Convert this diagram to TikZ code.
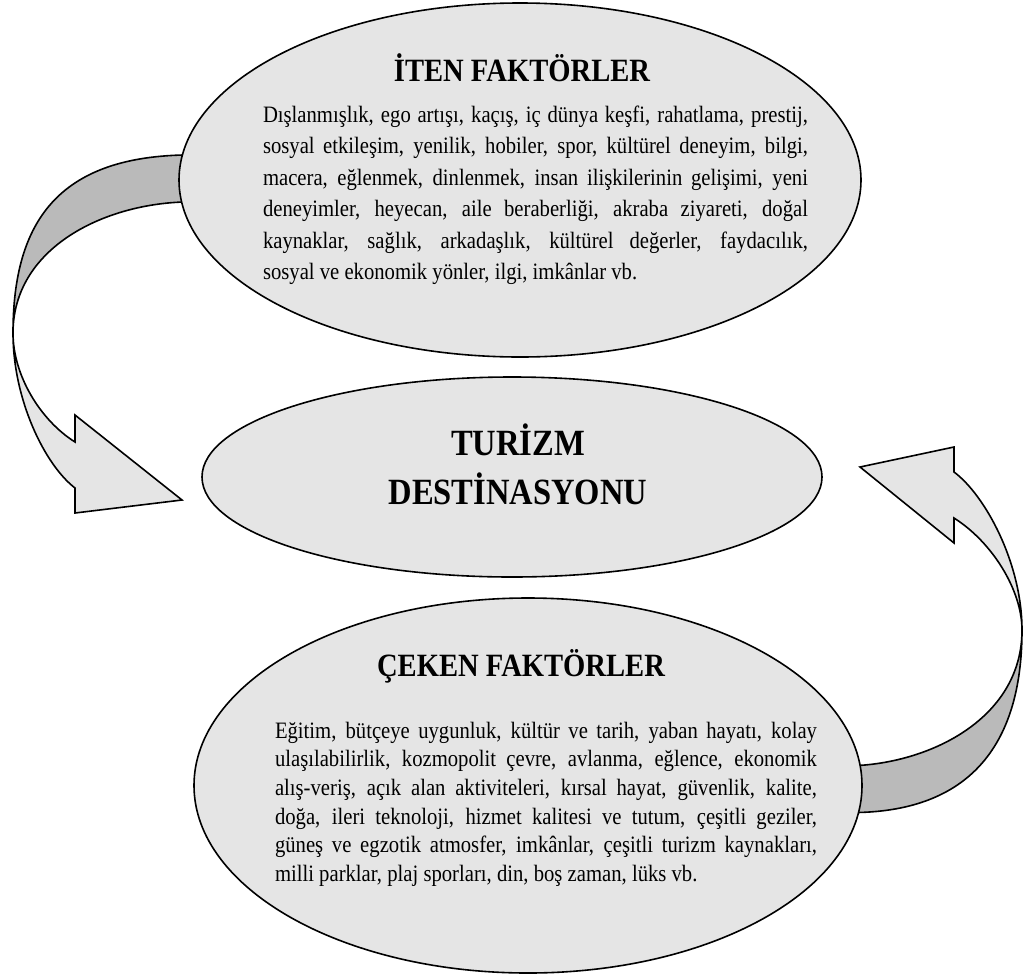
\documentclass[tikz,border=0pt]{standalone}
\usepackage{fontspec}
\setmainfont[FakeStretch=0.88]{Liberation Serif}
\usetikzlibrary{shapes.geometric, positioning, backgrounds}
\definecolor{ovalgray}{gray}{0.9}
\definecolor{bandgray}{gray}{0.73}
\tikzset{
  oval/.style = {
    ellipse, draw=black, line width=1.6pt,
    fill=ovalgray, inner sep=0pt, outer sep=0pt
  },
  hdr/.style = {
    anchor=base, inner sep=0pt,
    font=\fontsize{32.5}{32.5}\selectfont\bfseries
  },
  body/.style = {
    anchor=base, inner sep=0pt, text width=545pt, align=justify,
    font=\fontsize{23.5}{31.5}\selectfont,
    execute at begin node={\hyphenpenalty=10000\exhyphenpenalty=10000}
  },
  front/.style = {draw=black, line width=1.6pt, fill=ovalgray},
  back/.style  = {draw=black, line width=1.6pt, fill=bandgray}
}

\begin{document}
\begin{tikzpicture}[x=1pt, y=-1pt]
\useasboundingbox (0,0) rectangle (1023,975);

%% the three ovals
\node[oval, minimum width=682pt, minimum height=354pt] (iten) at (520,180) {};
\node[oval, minimum width=620pt, minimum height=200pt,
      below=20pt of iten, xshift=-8pt] (turizm) {};
\node[oval, minimum width=668pt, minimum height=375pt,
      below=21pt of turizm, xshift=16pt] (ceken) {};

%% push factors
\node[hdr] (itenhdr) at (522,81) {İTEN FAKTÖRLER};
\node[body] (itentxt) at (535.5,122)
  {Dışlanmışlık, ego artışı, kaçış, iç dünya keşfi, rahatlama, prestij,\linebreak
   sosyal etkileşim, yenilik, hobiler, spor, kültürel deneyim, bilgi,\linebreak
   macera, eğlenmek, dinlenmek, insan ilişkilerinin gelişimi, yeni\linebreak
   deneyimler, heyecan, aile beraberliği, akraba ziyareti, doğal\linebreak
   kaynaklar, sağlık, arkadaşlık, kültürel değerler, faydacılık,\linebreak
   sosyal ve ekonomik yönler, ilgi, imkânlar vb.};

%% destination
\node[hdr, anchor=center, align=center,
      font=\fontsize{37}{49}\selectfont\bfseries]
  (turizmtxt) at ([xshift=6pt, yshift=13pt]turizm.center) {TURİZM\\DESTİNASYONU};

%% pull factors
\node[hdr] (cekenhdr) at (521,676) {ÇEKEN FAKTÖRLER};
\node[body, text width=542pt, font=\fontsize{23.5}{28.7}\selectfont]
  (cekentxt) at (546,738)
  {Eğitim, bütçeye uygunluk, kültür ve tarih, yaban hayatı, kolay\linebreak
   ulaşılabilirlik, kozmopolit çevre, avlanma, eğlence, ekonomik\linebreak
   alış-veriş, açık alan aktiviteleri, kırsal hayat, güvenlik, kalite,\linebreak
   doğa, ileri teknoloji, hizmet kalitesi ve tutum, çeşitli geziler,\linebreak
   güneş ve egzotik atmosfer, imkânlar, çeşitli turizm kaynakları,\linebreak
   milli parklar, plaj sporları, din, boş zaman, lüks vb.};

%% curved block arrows behind the ovals
\begin{scope}[on background layer]
  % left: push -> destination
  \draw[back] ([xshift=4pt, yshift=-22pt]iten.west) -- ([xshift=4pt, yshift=25pt]iten.west)
    .. controls (60,158) and (13,220) .. (13,333)
    .. controls (13,250) and (100,205) .. ([xshift=4pt, yshift=-22pt]iten.west) -- cycle;
  \draw[front] (13,333) .. controls (13,400) and (45,465) .. (75,488)
    -- (75,513) -- ([xshift=-20pt, yshift=-23pt]turizm.west) -- (75,415) -- (75,442)
    .. controls (40,420) and (13,375) .. (13,333) -- cycle;
  % right: pull -> destination
  \draw[back] ([xshift=-4pt, yshift=-27pt]ceken.east)
    .. controls (965,810) and (1022,750) .. (1022,630)
    .. controls (1022,716) and (935,761) .. ([xshift=-4pt, yshift=20pt]ceken.east) -- cycle;
  \draw[front] (1022,630) .. controls (1022,563) and (985,495) .. (954,472)
    -- (954,447) -- ([xshift=38pt, yshift=10pt]turizm.east) -- (954,543) -- (954,518)
    .. controls (992,542) and (1022,590) .. (1022,630) -- cycle;
\end{scope}

\end{tikzpicture}
\end{document}
